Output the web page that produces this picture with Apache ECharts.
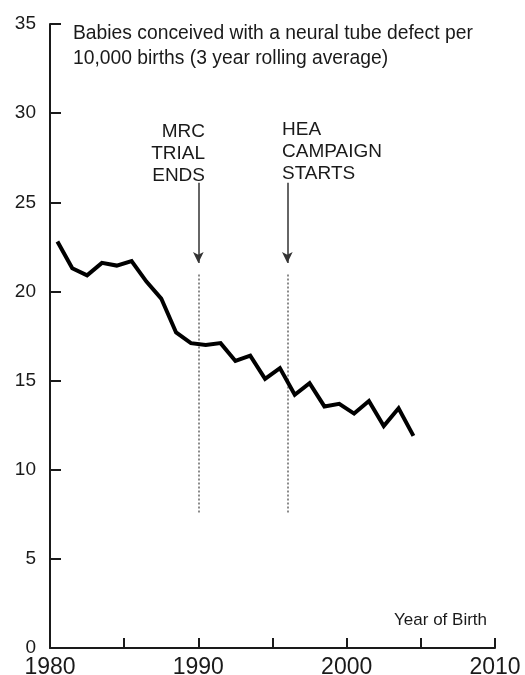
<!DOCTYPE html>
<html>
<head>
<meta charset="utf-8">
<script src="https://cdn.jsdelivr.net/npm/echarts@6/dist/echarts.min.js"></script>
<style>
html,body{margin:0;padding:0;background:#fff;}
#c{width:525px;height:675px;}
</style>
</head>
<body>
<div id="c"></div>
<script>
var years = [1980.5,1981.5,1982.5,1983.5,1984.5,1985.5,1986.5,1987.5,1988.5,1989.5,1990.5,1991.5,1992.5,1993.5,1994.5,1995.5,1996.5,1997.5,1998.5,1999.5,2000.5,2001.5,2002.5,2003.5,2004.5];
var rates = [22.8,21.3,20.9,21.6,21.45,21.7,20.55,19.6,17.7,17.1,17.0,17.1,16.1,16.4,15.1,15.7,14.2,14.85,13.55,13.7,13.15,13.85,12.45,13.45,11.9];
var eventYears = [1990, 1996];
var xTicks = [1980, 1990, 2000, 2010];
var yTicks = [0, 5, 10, 15, 20, 25, 30, 35];

var FONT = '"Liberation Sans", Arial, Helvetica, sans-serif';
var INK = '#1a1a1a';

var chart = echarts.init(document.getElementById('c'), null, {renderer: 'canvas'});

var lineData = years.map(function (y, i) { return [y, rates[i]]; });

var dotted = eventYears.map(function (y) {
  return [{coord: [y, 7.6]}, {coord: [y, 21.0]}];
});
var arrows = eventYears.map(function (y) {
  return [{coord: [y, 26.1], symbol: 'none'}, {coord: [y, 21.6], symbol: 'arrow', symbolSize: [8, 11]}];
});

chart.setOption({
  animation: false,
  backgroundColor: '#fff',
  grid: {left: 50, right: 30, top: 24, bottom: 27, containLabel: false, outerBoundsMode: 'none'},
  xAxis: {
    type: 'value', min: 1980, max: 2010, interval: 5,
    axisLine: {show: true, lineStyle: {color: INK, width: 2}},
    axisTick: {show: true, inside: true, length: 10, lineStyle: {color: INK, width: 2}},
    axisLabel: {
      margin: 8, fontSize: 23, color: INK, fontFamily: FONT,
      showMinLabel: true, showMaxLabel: true,
      formatter: function (v) { return xTicks.indexOf(v) >= 0 ? String(v) : ''; }
    },
    splitLine: {show: false}
  },
  yAxis: {
    type: 'value', min: 0, max: 35, interval: 5,
    axisLine: {show: true, lineStyle: {color: INK, width: 2}},
    axisTick: {show: true, inside: true, length: 11, lineStyle: {color: INK, width: 2}},
    axisLabel: {
      margin: 14, fontSize: 19, color: INK, fontFamily: FONT,
      showMinLabel: true, showMaxLabel: true,
      formatter: function (v) { return yTicks.indexOf(v) >= 0 ? String(v) : ''; }
    },
    splitLine: {show: false}
  },
  series: [
    {
      type: 'line',
      data: lineData,
      showSymbol: false,
      symbol: 'none',
      lineStyle: {color: '#000', width: 4, join: 'miter'},
      z: 5,
      markLine: {
        silent: true,
        symbol: 'none',
        label: {show: false},
        lineStyle: {color: '#666', width: 1.5, type: [2, 2]},
        data: dotted,
        z: 2
      }
    },
    {
      type: 'line',
      data: [],
      markLine: {
        silent: true,
        label: {show: false},
        lineStyle: {color: '#333', width: 1.5, type: 'solid'},
        data: arrows
      }
    }
  ],
  graphic: [
    {
      type: 'text', x: 73, y: 21,
      style: {
        text: 'Babies conceived with a neural tube defect per\n10,000 births (3 year rolling average)',
        font: '19.3px ' + FONT, fill: INK, lineHeight: 25
      }
    },
    {
      type: 'text', x: 205, y: 121,
      style: {
        text: 'MRC\nTRIAL\nENDS', align: 'right', textAlign: 'right',
        font: '19px ' + FONT, fill: INK, lineHeight: 22
      }
    },
    {
      type: 'text', x: 282, y: 119,
      style: {
        text: 'HEA\nCAMPAIGN\nSTARTS',
        font: '19px ' + FONT, fill: INK, lineHeight: 22
      }
    },
    {
      type: 'text', x: 487, y: 609,
      style: {
        text: 'Year of Birth', align: 'right', textAlign: 'right',
        font: '17px ' + FONT, fill: INK, lineHeight: 22
      }
    }
  ]
});
</script>
</body>
</html>
